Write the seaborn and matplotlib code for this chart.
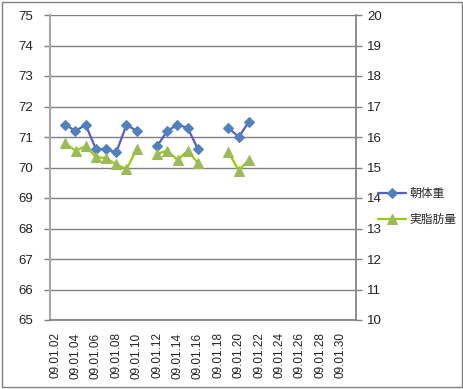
import numpy as np
import pandas as pd
import matplotlib
matplotlib.use("Agg")
import matplotlib.pyplot as plt
from matplotlib.patches import Rectangle
import seaborn as sns

# ── data ──────────────────────────────────────────────────
dates = [f"09.01.{d:02d}" for d in range(2, 32)]
measured = [3, 4, 5, 6, 7, 8, 9, 10, 12, 13, 14, 15, 16, 19, 20, 21]
weight = [71.4, 71.2, 71.4, 70.6, 70.6, 70.5, 71.4, 71.2,
          70.7, 71.2, 71.4, 71.3, 70.6,
          71.3, 71.0, 71.5]
fat = [15.8, 15.55, 15.7, 15.35, 15.3, 15.1, 14.95, 15.6,
       15.45, 15.55, 15.25, 15.55, 15.15,
       15.5, 14.9, 15.25]
label_weight = "朝体重"
label_fat = "実脂肪量"

sns.set_theme(style="white")
plt.rcParams["font.family"] = ["Liberation Sans", "Noto Sans CJK JP", "DejaVu Sans"]

df = pd.DataFrame({
    "date": [f"09.01.{d:02d}" for d in measured],
    "weight": weight,
    "fat": fat,
})
df["pos"] = df["date"].map({d: i for i, d in enumerate(dates)})
# a new segment starts wherever a day is missing
df["seg"] = (df["pos"].diff().fillna(1) != 1).cumsum()

fig = plt.figure(figsize=(4.64, 3.89), dpi=100, facecolor="white")
ax = fig.add_axes([50 / 464, 69 / 389, 306 / 464, 305 / 389])
ax2 = ax.twinx()

sns.lineplot(data=df, x="pos", y="weight", units="seg", estimator=None,
             color="#5b5bd0", lw=1.6, marker="D", ms=5,
             markerfacecolor="#4f81bd", markeredgecolor="#4f81bd",
             ax=ax, legend=False)
sns.lineplot(data=df, x="pos", y="fat", units="seg", estimator=None,
             color="#99cc00", lw=1.6, marker="^", ms=7.5,
             markerfacecolor="#9bbb59", markeredgecolor="#9bbb59",
             ax=ax2, legend=False)

ax.set_xlim(-0.5, len(dates) - 0.5)
ax.set_ylim(65, 75)
ax2.set_ylim(10, 20)
ax.set_yticks(range(65, 76))
ax2.set_yticks(range(10, 21))
ax.yaxis.grid(True, color="#808080", lw=1)
ax.set_axisbelow(True)

# category axis: tick marks between pairs of days, labels every 2nd day
ax.set_xticks(np.arange(-0.5, len(dates), 2))
ax.set_xticklabels([])
ax.set_xticks(range(0, len(dates), 2), minor=True)
ax.set_xticklabels(dates[::2], minor=True, rotation=90, fontsize=8.5, color="#222222")
ax.tick_params(axis="x", which="major", length=4, width=1, color="#808080", direction="out")
ax.tick_params(axis="x", which="minor", length=0, pad=9)
ax.tick_params(axis="y", length=4, width=1, color="#808080", direction="out",
               labelsize=9.5, labelcolor="#222222", pad=8)
ax2.tick_params(axis="y", length=4, width=1, color="#808080", direction="out",
                labelsize=9.5, labelcolor="#222222", pad=4)
ax.set_xlabel("")
ax.set_ylabel("")
ax2.set_ylabel("")

for a in (ax, ax2):
    for s in a.spines.values():
        s.set_visible(False)
ax.spines["left"].set_visible(True)
ax.spines["left"].set_color("#a8a8a8")
ax.spines["left"].set_linewidth(1.5)
ax.spines["bottom"].set_visible(True)
ax.spines["bottom"].set_color("#808080")
ax2.spines["right"].set_visible(True)
ax2.spines["right"].set_color("#808080")

h1 = ax.lines[0]
h2 = ax2.lines[0]
fig.legend([h1, h2], [label_weight, label_fat], loc="center left",
           bbox_to_anchor=(373 / 464, 1 - 207 / 389), frameon=False,
           fontsize=8.5, handlelength=2.4, handletextpad=0.3,
           labelspacing=1.2, borderaxespad=0)

fig.add_artist(Rectangle((2 / 464, 2 / 389), 460 / 464, 385 / 389,
                         transform=fig.transFigure, fill=False,
                         edgecolor="#808080", lw=1))

fig.savefig("out.png", dpi=100, facecolor="white")
plt.close("all")
